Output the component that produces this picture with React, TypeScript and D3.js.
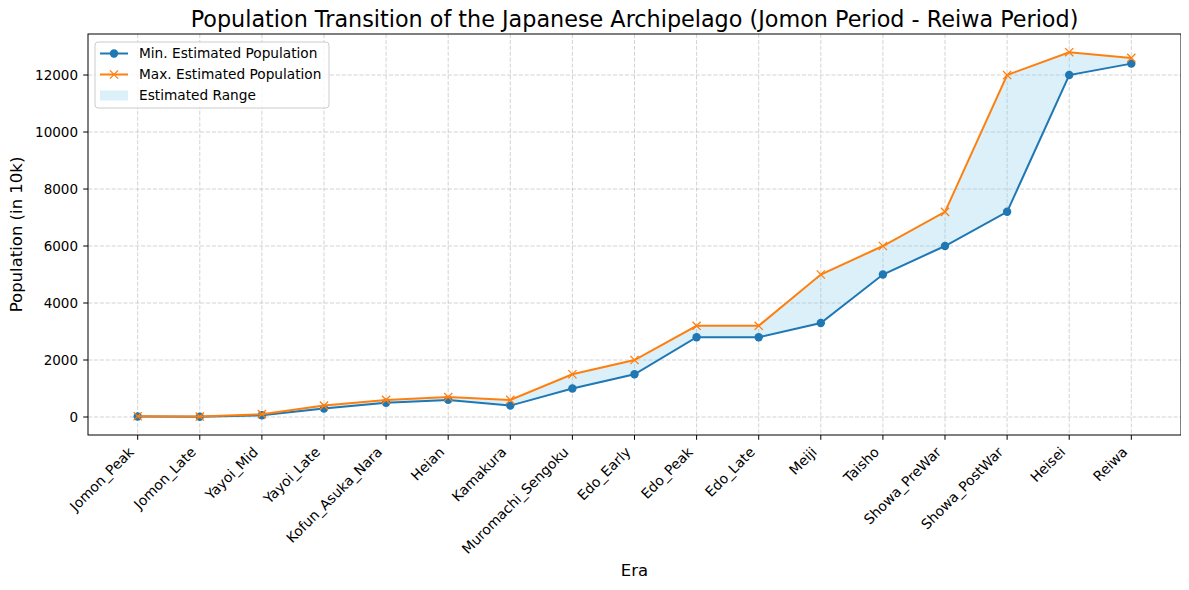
import { useEffect, useRef } from "react";
import * as d3 from "d3";

const eras = [
  "Jomon_Peak",
  "Jomon_Late",
  "Yayoi_Mid",
  "Yayoi_Late",
  "Kofun_Asuka_Nara",
  "Heian",
  "Kamakura",
  "Muromachi_Sengoku",
  "Edo_Early",
  "Edo_Peak",
  "Edo_Late",
  "Meiji",
  "Taisho",
  "Showa_PreWar",
  "Showa_PostWar",
  "Heisei",
  "Reiwa",
];
const minPop = [20, 8, 60, 300, 500, 600, 400, 1000, 1500, 2800, 2800, 3300, 5000, 6000, 7200, 12000, 12400];
const maxPop = [26, 16, 100, 400, 600, 700, 600, 1500, 2000, 3200, 3200, 5000, 6000, 7200, 12000, 12800, 12600];
const yTicks = [0, 2000, 4000, 6000, 8000, 10000, 12000];

const W = 1189;
const H = 590;
const BLUE = "#1f77b4";
const ORANGE = "#ff7f0e";
const FONT = "DejaVu Sans, sans-serif";

export default function App() {
  const svgRef = useRef<SVGSVGElement | null>(null);

  useEffect(() => {
    if (!svgRef.current) return;
    const margin = { top: 34, right: 8, bottom: 155, left: 88 };
    const width = W - margin.left - margin.right;
    const height = H - margin.top - margin.bottom;

    d3.select(svgRef.current).selectAll("*").remove();
    const svg = d3.select(svgRef.current).attr("width", W).attr("height", H);
    const g = svg.append("g").attr("transform", `translate(${margin.left},${margin.top})`);

    const n = eras.length;
    const x = d3.scaleLinear().domain([-0.8, n - 1 + 0.8]).range([0, width]);
    const dataMax = d3.max(maxPop) || 0;
    const dataMin = d3.min(minPop) || 0;
    const pad = (dataMax - dataMin) * 0.05;
    const y = d3.scaleLinear().domain([dataMin - pad, dataMax + pad]).range([height, 0]);

    // grid (dashed, like matplotlib's '--' at alpha 0.7)
    const grid = g.append("g");
    grid
      .selectAll("line.vx")
      .data(eras)
      .join("line")
      .attr("x1", (_, i) => x(i))
      .attr("x2", (_, i) => x(i))
      .attr("y1", 0)
      .attr("y2", height)
      .attr("stroke", "#b0b0b0")
      .attr("stroke-opacity", 0.7)
      .attr("stroke-width", 0.8)
      .attr("stroke-dasharray", "4.1,1.8");
    grid
      .selectAll("line.hy")
      .data(yTicks)
      .join("line")
      .attr("x1", 0)
      .attr("x2", width)
      .attr("y1", (d) => y(d))
      .attr("y2", (d) => y(d))
      .attr("stroke", "#b0b0b0")
      .attr("stroke-opacity", 0.7)
      .attr("stroke-width", 0.8)
      .attr("stroke-dasharray", "4.1,1.8");

    // range fill
    const area = d3
      .area<number>()
      .x((_, i) => x(i))
      .y0((_, i) => y(minPop[i]))
      .y1((d) => y(d));
    g.append("path")
      .datum(maxPop)
      .attr("d", area)
      .attr("fill", "#87ceeb")
      .attr("fill-opacity", 0.3);

    const line = d3
      .line<number>()
      .x((_, i) => x(i))
      .y((d) => y(d));

    g.append("path")
      .datum(minPop)
      .attr("d", line)
      .attr("fill", "none")
      .attr("stroke", BLUE)
      .attr("stroke-width", 2);
    g.selectAll("circle.min")
      .data(minPop)
      .join("circle")
      .attr("cx", (_, i) => x(i))
      .attr("cy", (d) => y(d))
      .attr("r", 4.2)
      .attr("fill", BLUE);

    g.append("path")
      .datum(maxPop)
      .attr("d", line)
      .attr("fill", "none")
      .attr("stroke", ORANGE)
      .attr("stroke-width", 2);
    const xs = 4.1;
    g.selectAll("path.xmark")
      .data(maxPop)
      .join("path")
      .attr("d", (d, i) => {
        const cx = x(i);
        const cy = y(d);
        return `M${cx - xs},${cy - xs}L${cx + xs},${cy + xs}M${cx - xs},${cy + xs}L${cx + xs},${cy - xs}`;
      })
      .attr("stroke", ORANGE)
      .attr("stroke-width", 1.3);

    // frame
    g.append("rect")
      .attr("width", width)
      .attr("height", height)
      .attr("fill", "none")
      .attr("stroke", "#000")
      .attr("stroke-width", 1);

    // x axis
    const xAxis = g.append("g").attr("transform", `translate(0,${height})`);
    xAxis
      .selectAll("line")
      .data(eras)
      .join("line")
      .attr("x1", (_, i) => x(i))
      .attr("x2", (_, i) => x(i))
      .attr("y1", 0)
      .attr("y2", 4.8)
      .attr("stroke", "#000");
    xAxis
      .selectAll("text")
      .data(eras)
      .join("text")
      .attr("transform", (_, i) => `translate(${x(i) - 3},${18}) rotate(-45)`)
      .attr("text-anchor", "end")
      .style("font-family", FONT)
      .style("font-size", "13.9px")
      .attr("fill", "#000")
      .text((d) => d);

    // y axis
    const yAxis = g.append("g");
    yAxis
      .selectAll("line")
      .data(yTicks)
      .join("line")
      .attr("x1", -4.8)
      .attr("x2", 0)
      .attr("y1", (d) => y(d))
      .attr("y2", (d) => y(d))
      .attr("stroke", "#000");
    yAxis
      .selectAll("text")
      .data(yTicks)
      .join("text")
      .attr("x", -10)
      .attr("y", (d) => y(d))
      .attr("dy", "0.35em")
      .attr("text-anchor", "end")
      .style("font-family", FONT)
      .style("font-size", "13.5px")
      .text((d) => String(d));

    // labels
    svg
      .append("text")
      .attr("x", margin.left + width / 2)
      .attr("y", 576)
      .attr("text-anchor", "middle")
      .style("font-family", FONT)
      .style("font-size", "16.5px")
      .text("Era");
    svg
      .append("text")
      .attr("transform", `translate(22,${margin.top + height / 2}) rotate(-90)`)
      .attr("text-anchor", "middle")
      .style("font-family", FONT)
      .style("font-size", "16.5px")
      .text("Population (in 10k)");
    svg
      .append("text")
      .attr("x", margin.left + width / 2)
      .attr("y", 26.5)
      .attr("text-anchor", "middle")
      .style("font-family", FONT)
      .style("font-size", "22.3px")
      .text("Population Transition of the Japanese Archipelago (Jomon Period - Reiwa Period)");

    // legend
    const lg = svg.append("g").attr("transform", "translate(95,42)");
    lg.append("rect")
      .attr("width", 234)
      .attr("height", 66)
      .attr("rx", 3)
      .attr("fill", "#fff")
      .attr("fill-opacity", 0.8)
      .attr("stroke", "#cccccc");
    const items = [
      { label: "Min. Estimated Population", kind: "min" },
      { label: "Max. Estimated Population", kind: "max" },
      { label: "Estimated Range", kind: "fill" },
    ];
    items.forEach((it, i) => {
      const cy = 11.5 + i * 21;
      if (it.kind === "fill") {
        lg.append("rect")
          .attr("x", 5)
          .attr("y", cy - 5)
          .attr("width", 28)
          .attr("height", 10)
          .attr("fill", "#87ceeb")
          .attr("fill-opacity", 0.3);
      } else {
        const c = it.kind === "min" ? BLUE : ORANGE;
        lg.append("line")
          .attr("x1", 5)
          .attr("x2", 33)
          .attr("y1", cy)
          .attr("y2", cy)
          .attr("stroke", c)
          .attr("stroke-width", 2);
        if (it.kind === "min") {
          lg.append("circle").attr("cx", 19).attr("cy", cy).attr("r", 4.2).attr("fill", c);
        } else {
          lg.append("path")
            .attr("d", `M${19 - xs},${cy - xs}L${19 + xs},${cy + xs}M${19 - xs},${cy + xs}L${19 + xs},${cy - xs}`)
            .attr("stroke", c)
            .attr("stroke-width", 1.3);
        }
      }
      lg.append("text")
        .attr("x", 44)
        .attr("y", cy)
        .attr("dy", "0.35em")
        .style("font-family", FONT)
        .style("font-size", "13.7px")
        .text(it.label);
    });
  }, []);

  return (
    <div style={{ margin: -8 }}>
      <svg ref={svgRef} style={{ display: "block", background: "#fff" }} />
    </div>
  );
}
